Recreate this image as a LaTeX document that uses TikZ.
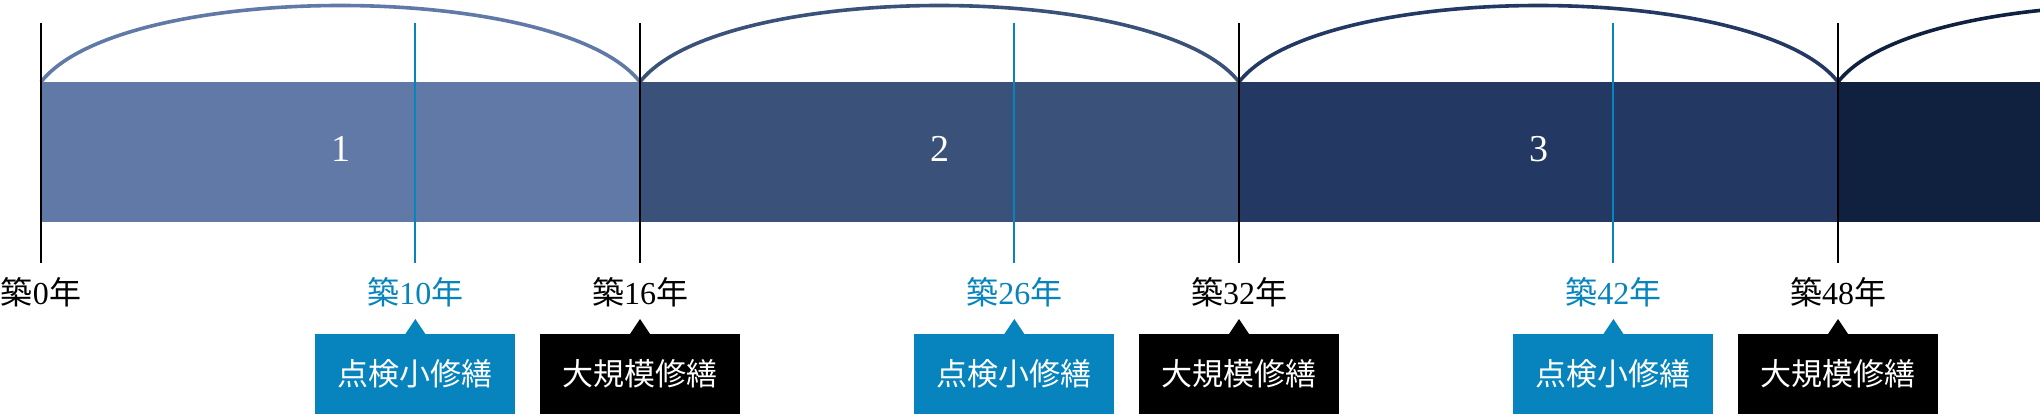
\documentclass[tikz,border=0pt]{standalone}
\usepackage{fontspec}
\setmainfont{Liberation Serif}
\newfontfamily\cjk{Noto Sans CJK JP}
\definecolor{barA}{HTML}{6079A6}
\definecolor{barB}{HTML}{3A5179}
\definecolor{barC}{HTML}{233862}
\definecolor{barD}{HTML}{10213F}
\definecolor{accent}{HTML}{0784BD}
\begin{document}
\begin{tikzpicture}[x=1pt,y=-1pt,
  numlabel/.style={text=white,font=\fontsize{38}{38}\selectfont,anchor=base,inner sep=0},
  yearlabel/.style={font=\fontsize{32}{32}\selectfont,inner sep=0,anchor=base},
  tagbox/.style={minimum width=200pt,minimum height=80pt,inner sep=0,text=white,
    font=\cjk\fontsize{31}{31}\selectfont,anchor=north},
  minortag/.style={tagbox,fill=accent},
  majortag/.style={tagbox,fill=black},
  majortick/.style={draw=black,line width=2pt},
  minortick/.style={draw=accent,line width=2pt},
  span/.style={line width=3.6pt}
]
\useasboundingbox (0,0) rectangle (2040,414);
% tick base points
\coordinate (t0) at (41,82);
\coordinate (t1) at (640,82);
\coordinate (t2) at (1239,82);
\coordinate (t3) at (1838,82);
\coordinate (t4) at (2437,82);
% bars
\fill[barA] (41,82) rectangle (640,222);
\fill[barB] (640,82) rectangle (1239,222);
\fill[barC] (1239,82) rectangle (1838,222);
\fill[barD] (1838,82) rectangle (2040,222);
\node[numlabel] (n1) at (340.5,162) {1};
\node[numlabel] (n2) at (939.5,162) {2};
\node[numlabel] (n3) at (1538.5,162) {3};
% arcs
\begin{scope}
\clip (0,0) rectangle (2040,414);
\draw[span,barA] (t0) .. controls +(80,-102) and +(-80,-102) .. (t1);
\draw[span,barB] (t1) .. controls +(80,-102) and +(-80,-102) .. (t2);
\draw[span,barC] (t2) .. controls +(80,-102) and +(-80,-102) .. (t3);
\draw[span,barD] (t3) .. controls +(80,-102) and +(-80,-102) .. (t4);
\end{scope}
% ticks
\foreach \n/\x in {a/41,b/640,c/1239,d/1838}{
  \coordinate (k\n top) at (\x,23);
  \coordinate (k\n bot) at (\x,263);
  \draw[majortick] (k\n top) -- (k\n bot);
}
\foreach \n/\x in {a/415.4,b/1014.4,c/1613.4}{
  \coordinate (m\n top) at (\x,23);
  \coordinate (m\n bot) at (\x,263);
  \draw[minortick] (m\n top) -- (m\n bot);
}
% year labels
\node[yearlabel] (y0) at (41,304) {{\cjk 築}0{\cjk 年}};
\node[yearlabel,text=accent] (y10) at (415.4,304) {{\cjk 築}10{\cjk 年}};
\node[yearlabel] (y16) at (640,304) {{\cjk 築}16{\cjk 年}};
\node[yearlabel,text=accent] (y26) at (1014.4,304) {{\cjk 築}26{\cjk 年}};
\node[yearlabel] (y32) at (1239,304) {{\cjk 築}32{\cjk 年}};
\node[yearlabel,text=accent] (y42) at (1613.4,304) {{\cjk 築}42{\cjk 年}};
\node[yearlabel] (y48) at (1838,304) {{\cjk 築}48{\cjk 年}};
% tags
\foreach \n/\x in {a/415.4,b/1014.4,c/1613.4}{
  \node[minortag] (s\n) at (\x,334) {点検小修繕};
  \fill[accent] ([xshift=-10pt]s\n.north) -- ([yshift=15pt]s\n.north) -- ([xshift=10pt]s\n.north) -- cycle;
}
\foreach \n/\x in {a/640,b/1239,c/1838}{
  \node[majortag] (L\n) at (\x,334) {大規模修繕};
  \fill[black] ([xshift=-10pt]L\n.north) -- ([yshift=15pt]L\n.north) -- ([xshift=10pt]L\n.north) -- cycle;
}
\end{tikzpicture}
\end{document}
